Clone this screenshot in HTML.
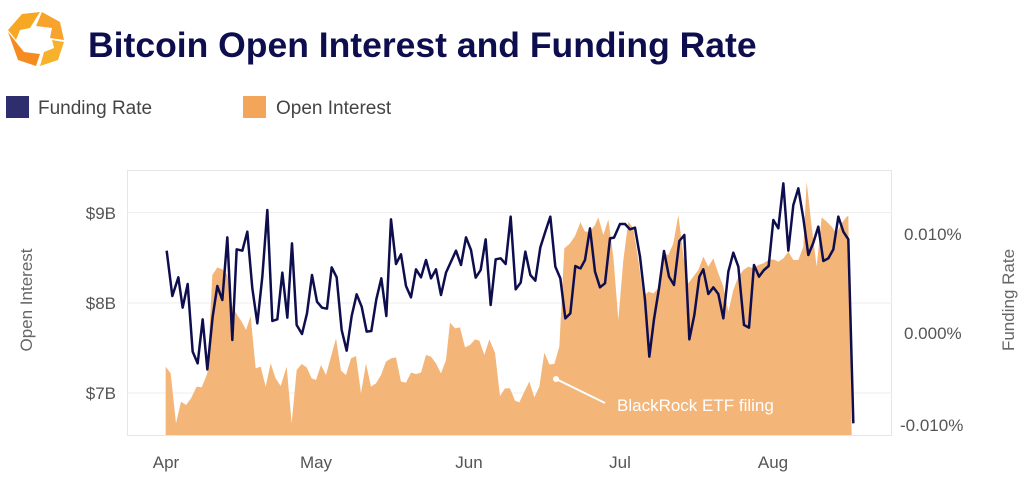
<!DOCTYPE html>
<html><head><meta charset="utf-8"><style>
body{margin:0;width:1024px;height:480px;background:#fff;overflow:hidden;font-family:"Liberation Sans",sans-serif}
</style></head><body>
<svg width="1024" height="480" xmlns="http://www.w3.org/2000/svg" font-family="Liberation Sans, sans-serif">
<g>
<polygon points="22,14 40,12 30,28 20,30 16,40 8,30" fill="#f7a823"/>
<polygon points="42,12 60,22 64,40 50,38 52,28 36,26" fill="#f8a32e"/>
<polygon points="64,42 58,60 40,66 44,52 54,48 52,40" fill="#f7b12a"/>
<polygon points="36,66 18,60 8,32 16,42 24,52 40,54" fill="#f68b1f"/>
</g>
<text x="88" y="57" font-size="35.5" font-weight="bold" fill="#0e0e4f">Bitcoin Open Interest and Funding Rate</text>
<rect x="6" y="96" width="23" height="22" fill="#2e2e6e"/>
<text x="38" y="114" font-size="19" fill="#444">Funding Rate</text>
<rect x="243" y="96" width="23" height="22" fill="#f3a65a"/>
<text x="276" y="114" font-size="19" fill="#444">Open Interest</text>
<rect x="127.5" y="170.5" width="764" height="265" fill="none" stroke="#e6e6e6"/>
<line x1="127" y1="212.5" x2="892" y2="212.5" stroke="#eee"/>
<line x1="127" y1="303" x2="892" y2="303" stroke="#eee"/>
<line x1="127" y1="393" x2="892" y2="393" stroke="#eee"/>
<g transform="translate(120,160) scale(0.33333)">
<polygon fill="#f4b579" points="137,825 137,620 152,640 168,790 183,725 198,735 213,715 230,680 245,682 262,640 277,345 292,322 307,328 322,345 337,440 352,465 365,485 378,510 392,468 407,625 422,620 437,680 452,610 467,655 482,678 500,620 515,790 530,630 545,612 560,622 575,655 588,660 603,615 618,645 633,590 648,535 663,632 678,645 693,595 708,588 723,700 738,610 753,680 768,670 783,645 798,605 813,595 828,592 843,665 858,668 873,638 888,642 903,638 918,585 933,590 948,610 963,640 978,600 990,488 1005,505 1020,502 1035,562 1050,555 1065,538 1078,542 1093,585 1108,538 1125,578 1140,708 1155,685 1170,685 1185,722 1198,727 1213,695 1228,665 1243,712 1258,680 1273,578 1288,613 1303,612 1318,560 1333,265 1350,250 1365,228 1380,190 1381,825"/>
</g>
<g transform="translate(540,160) scale(0.33333)">
<polygon fill="#f4b579" points="119,825 120,185 135,215 150,215 165,195 175,172 190,225 205,178 220,290 235,480 250,300 265,185 280,205 295,300 310,410 325,395 340,400 355,385 370,280 385,285 400,250 415,165 430,285 445,370 460,350 475,330 490,290 505,320 520,295 535,340 550,380 565,455 580,390 595,350 610,330 625,320 640,325 655,315 670,310 685,300 700,298 715,305 730,295 745,275 760,300 775,300 790,260 800,65 815,200 830,320 845,172 860,185 875,200 890,220 905,190 920,170 925,168 935,825"/>
</g>
<g transform="translate(120,160) scale(0.33333)">
<polyline fill="none" stroke="#0e0e4f" stroke-width="7.5" stroke-linejoin="round" points="140,272 157,408 175,352 188,443 203,372 218,575 233,610 248,478 262,628 278,470 292,378 307,420 322,232 337,540 350,268 367,272 382,215 397,385 412,490 427,350 442,150 457,483 472,478 487,338 502,473 516,250 530,495 546,522 561,460 576,345 591,425 606,443 621,446 635,322 650,352 665,510 680,572 695,468 710,403 725,440 740,515 754,513 769,418 784,355 799,468 813,178 828,312 843,283 858,378 873,412 888,328 903,352 918,300 933,355 948,328 963,405 978,338 993,305 1008,272 1023,315 1038,232 1053,270 1067,353 1082,330 1097,238 1112,435 1127,298 1142,295 1157,312 1172,170 1187,388 1202,368 1216,275 1231,345 1246,362 1261,262 1276,215 1291,170 1306,320 1321,355 1336,475 1351,460 1366,318 1380,325"/>
</g>
<g transform="translate(540,160) scale(0.33333)">
<polyline fill="none" stroke="#0e0e4f" stroke-width="7.5" stroke-linejoin="round" points="120,328 135,300 150,205 165,335 180,382 195,370 210,235 222,233 240,192 255,192 270,208 285,203 300,290 315,420 328,590 342,478 357,385 372,273 387,350 402,375 418,243 433,225 448,538 463,465 478,350 490,328 505,402 520,382 535,402 550,475 565,335 580,278 595,320 612,495 627,503 642,315 657,350 672,330 686,318 700,180 715,205 730,70 745,272 760,135 775,85 790,175 805,285 820,248 835,200 850,303 865,295 880,268 895,170 910,215 925,238 940,790"/>
</g>
<circle cx="556" cy="379" r="3" fill="#fff"/>
<line x1="556" y1="379" x2="605" y2="403" stroke="#fff" stroke-width="2"/>
<text x="617" y="411" font-size="17" fill="#fff">BlackRock ETF filing</text>
<g font-size="17" fill="#555" text-anchor="end">
<text x="116" y="219">$9B</text><text x="116" y="309">$8B</text><text x="116" y="399">$7B</text>
</g>
<g font-size="17" fill="#555">
<text x="904" y="240">0.010%</text><text x="904" y="339">0.000%</text><text x="900" y="431">-0.010%</text>
</g>
<g font-size="17" fill="#555" text-anchor="middle">
<text x="166" y="468">Apr</text><text x="316" y="468">May</text><text x="469" y="468">Jun</text><text x="620" y="468">Jul</text><text x="773" y="468">Aug</text>
</g>
<text transform="translate(32,300) rotate(-90)" font-size="17" fill="#666" text-anchor="middle">Open Interest</text>
<text transform="translate(1014,300) rotate(-90)" font-size="17" fill="#666" text-anchor="middle">Funding Rate</text>
</svg>
</body></html>
